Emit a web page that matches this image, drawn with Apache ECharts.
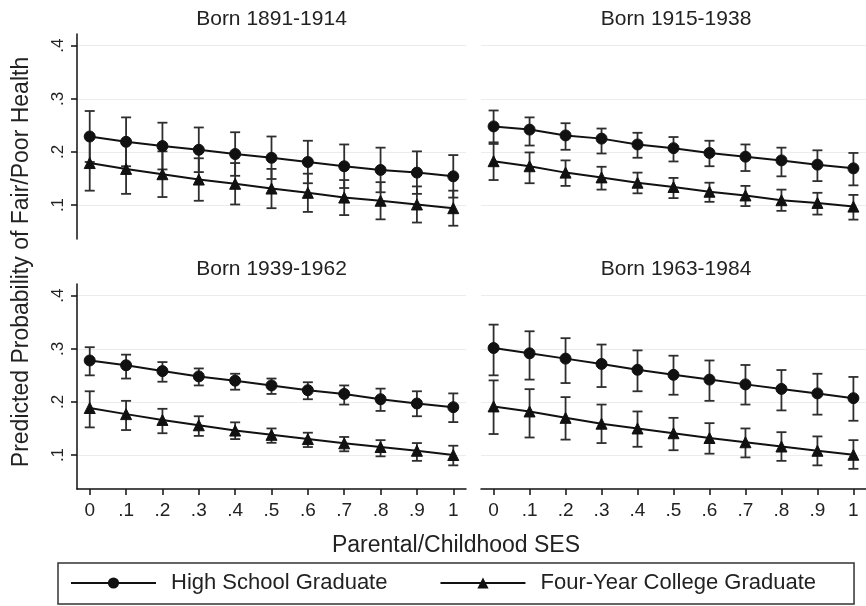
<!DOCTYPE html>
<html>
<head>
<meta charset="utf-8">
<script src="https://cdn.jsdelivr.net/npm/echarts@6/dist/echarts.min.js"></script>
<style>
  html, body { margin: 0; padding: 0; background: #fff; }
  #chart { width: 866px; height: 606px; }
</style>
</head>
<body>
<div id="chart"></div>
<script>
// Parental/childhood SES values on the x axis
const ses = [0, 0.1, 0.2, 0.3, 0.4, 0.5, 0.6, 0.7, 0.8, 0.9, 1];
const xTickLabels = ['0', '.1', '.2', '.3', '.4', '.5', '.6', '.7', '.8', '.9', '1'];
const yTickValues = [0.1, 0.2, 0.3, 0.4];
const yTickLabels = ['.1', '.2', '.3', '.4'];

const cohorts = ['Born 1891-1914', 'Born 1915-1938', 'Born 1939-1962', 'Born 1963-1984'];
const seriesNames = ['High School Graduate', 'Four-Year College Graduate'];

// Born 1891-1914
const hsMean1891 = [0.229, 0.219, 0.211, 0.204, 0.196, 0.189, 0.181, 0.173, 0.166, 0.161, 0.154];
const hsLow1891  = [0.181, 0.173, 0.167, 0.162, 0.155, 0.149, 0.141, 0.132, 0.124, 0.121, 0.114];
const hsHigh1891 = [0.277, 0.265, 0.255, 0.246, 0.237, 0.229, 0.221, 0.214, 0.208, 0.201, 0.194];
const coMean1891 = [0.179, 0.168, 0.158, 0.148, 0.140, 0.131, 0.123, 0.114, 0.108, 0.101, 0.094];
const coLow1891  = [0.127, 0.121, 0.115, 0.108, 0.101, 0.094, 0.087, 0.081, 0.073, 0.067, 0.061];
const coHigh1891 = [0.231, 0.215, 0.201, 0.188, 0.179, 0.168, 0.159, 0.147, 0.143, 0.135, 0.127];

// Born 1915-1938
const hsMean1915 = [0.248, 0.242, 0.231, 0.225, 0.214, 0.207, 0.198, 0.191, 0.184, 0.176, 0.169];
const hsLow1915  = [0.215, 0.212, 0.204, 0.197, 0.189, 0.182, 0.173, 0.164, 0.154, 0.145, 0.137];
const hsHigh1915 = [0.278, 0.265, 0.254, 0.244, 0.236, 0.228, 0.221, 0.214, 0.208, 0.203, 0.198];
const coMean1915 = [0.1825, 0.173, 0.161, 0.152, 0.142, 0.134, 0.125, 0.118, 0.109, 0.104, 0.097];
const coLow1915  = [0.147, 0.141, 0.136, 0.129, 0.122, 0.113, 0.106, 0.098, 0.089, 0.082, 0.0725];
const coHigh1915 = [0.218, 0.199, 0.184, 0.172, 0.161, 0.151, 0.142, 0.136, 0.129, 0.123, 0.119];

// Born 1939-1962
const hsMean1939 = [0.278, 0.269, 0.258, 0.248, 0.240, 0.231, 0.222, 0.215, 0.205, 0.197, 0.190];
const hsLow1939  = [0.250, 0.244, 0.238, 0.231, 0.223, 0.215, 0.205, 0.195, 0.183, 0.173, 0.162];
const hsHigh1939 = [0.303, 0.289, 0.275, 0.263, 0.253, 0.244, 0.237, 0.231, 0.225, 0.220, 0.216];
const coMean1939 = [0.1885, 0.177, 0.166, 0.156, 0.146, 0.138, 0.130, 0.122, 0.115, 0.108, 0.100];
const coLow1939  = [0.152, 0.147, 0.141, 0.136, 0.130, 0.123, 0.115, 0.107, 0.0975, 0.089, 0.0805];
const coHigh1939 = [0.220, 0.202, 0.187, 0.173, 0.1615, 0.150, 0.142, 0.134, 0.128, 0.1225, 0.1175];

// Born 1963-1984
const hsMean1963 = [0.3015, 0.2915, 0.2815, 0.2715, 0.2605, 0.251, 0.242, 0.233, 0.2245, 0.216, 0.207];
const hsLow1963  = [0.250, 0.242, 0.2355, 0.228, 0.220, 0.2135, 0.202, 0.195, 0.184, 0.176, 0.1645];
const hsHigh1963 = [0.3455, 0.333, 0.320, 0.308, 0.297, 0.287, 0.278, 0.2695, 0.260, 0.253, 0.247];
const coMean1963 = [0.1915, 0.182, 0.170, 0.159, 0.150, 0.141, 0.132, 0.124, 0.116, 0.108, 0.1005];
const coLow1963  = [0.1395, 0.133, 0.129, 0.1225, 0.1155, 0.109, 0.1025, 0.0955, 0.089, 0.0805, 0.074];
const coHigh1963 = [0.2405, 0.224, 0.209, 0.195, 0.182, 0.170, 0.160, 0.150, 0.143, 0.135, 0.128];

const panels = [
  { hs: [hsMean1891, hsLow1891, hsHigh1891], co: [coMean1891, coLow1891, coHigh1891] },
  { hs: [hsMean1915, hsLow1915, hsHigh1915], co: [coMean1915, coLow1915, coHigh1915] },
  { hs: [hsMean1939, hsLow1939, hsHigh1939], co: [coMean1939, coLow1939, coHigh1939] },
  { hs: [hsMean1963, hsLow1963, hsHigh1963], co: [coMean1963, coLow1963, coHigh1963] }
];

const FONT = '"Liberation Sans", Arial, Helvetica, sans-serif';
const INK = '#111';

const gridBoxes = [
  { left: 77,  top: 34,  width: 389, height: 205 },
  { left: 481, top: 34,  width: 389, height: 205 },
  { left: 77,  top: 284, width: 389, height: 205 },
  { left: 481, top: 284, width: 389, height: 205 }
];

const xAxes = gridBoxes.map((g, i) => {
  const bottomRow = i >= 2;
  return {
    type: 'value', gridIndex: i, min: -0.035, max: 1.035,
    show: bottomRow,
    axisLine: { show: bottomRow, onZero: false, lineStyle: { color: INK, width: 1.5 } },
    axisTick: { show: bottomRow, length: 6, customValues: ses, lineStyle: { color: INK, width: 1.5 } },
    axisLabel: {
      show: bottomRow, customValues: ses, margin: 12,
      fontFamily: FONT, fontSize: 19, color: '#222',
      formatter: v => xTickLabels[ses.indexOf(v)]
    },
    splitLine: { show: false }
  };
});

const yAxes = gridBoxes.map((g, i) => {
  const leftCol = i % 2 === 0;
  return {
    type: 'value', gridIndex: i, min: 0.036, max: 0.422,
    axisLine: { show: leftCol, onZero: false, lineStyle: { color: INK, width: 1.5 } },
    axisTick: { show: leftCol, length: 6, customValues: yTickValues, lineStyle: { color: INK, width: 1.5 } },
    axisLabel: {
      show: leftCol, customValues: yTickValues, rotate: 90, margin: 10,
      fontFamily: FONT, fontSize: 17, color: '#222',
      formatter: v => yTickLabels[yTickValues.indexOf(v)]
    },
    splitLine: { show: true, lineStyle: { color: '#ececec', width: 1 } }
  };
});

// Vertical confidence-interval bar with caps at both ends
function ciBar(params, api) {
  const x = api.value(0);
  const top = api.coord([x, api.value(2)]);
  const bot = api.coord([x, api.value(1)]);
  const half = 5;
  const style = { stroke: '#2e2e2e', lineWidth: 1.8 };
  return {
    type: 'group',
    children: [
      { type: 'line', shape: { x1: top[0], y1: top[1], x2: bot[0], y2: bot[1] }, style },
      { type: 'line', shape: { x1: top[0] - half, y1: top[1], x2: top[0] + half, y2: top[1] }, style },
      { type: 'line', shape: { x1: bot[0] - half, y1: bot[1], x2: bot[0] + half, y2: bot[1] }, style }
    ]
  };
}

const series = [];
panels.forEach((p, i) => {
  [['hs', 'circle', 11], ['co', 'triangle', 11]].forEach(([key, symbol, size], k) => {
    const [mean, low, high] = p[key];
    series.push({
      type: 'custom', xAxisIndex: i, yAxisIndex: i, z: 2,
      renderItem: ciBar, encode: { x: 0, y: [1, 2] },
      data: ses.map((x, j) => [x, low[j], high[j]]),
      silent: true
    });
    series.push({
      type: 'line', name: seriesNames[k], xAxisIndex: i, yAxisIndex: i, z: 3,
      symbol, symbolSize: size, showSymbol: true,
      lineStyle: { color: INK, width: 2 },
      itemStyle: { color: INK, borderColor: INK },
      data: ses.map((x, j) => [x, mean[j]]),
      animation: false
    });
  });
});

const titleCenters = [[271.5, 19], [676, 19], [271.5, 269], [676, 269]];
const graphic = cohorts.map((t, i) => ({
  type: 'text', x: titleCenters[i][0], y: titleCenters[i][1],
  style: { text: t, font: '21px ' + FONT, fill: '#222', textAlign: 'center', textVerticalAlign: 'middle' }
}));
graphic.push({
  type: 'text', x: 22, y: 262, rotation: Math.PI / 2,
  style: { text: 'Predicted Probability of Fair/Poor Health', font: '23px ' + FONT, fill: '#222',
           textAlign: 'center', textVerticalAlign: 'middle' }
});
graphic.push({
  type: 'text', x: 456, y: 546,
  style: { text: 'Parental/Childhood SES', font: '23px ' + FONT, fill: '#222',
           textAlign: 'center', textVerticalAlign: 'middle' }
});

const chart = echarts.init(document.getElementById('chart'), null, { renderer: 'canvas' });
chart.setOption({
  animation: false,
  backgroundColor: '#fff',
  grid: gridBoxes.map(g => Object.assign({ containLabel: false }, g)),
  xAxis: xAxes,
  yAxis: yAxes,
  legend: {
    data: seriesNames, left: 58, top: 563, width: 790,
    padding: [9, 38, 10, 12], itemGap: 52,
    itemWidth: 85, itemHeight: 14,
    borderColor: '#333', borderWidth: 1.5,
    textStyle: { fontFamily: FONT, fontSize: 22, color: '#222', padding: [0, 0, 0, 10] },
    selectedMode: false
  },
  graphic,
  series
});
</script>
</body>
</html>
